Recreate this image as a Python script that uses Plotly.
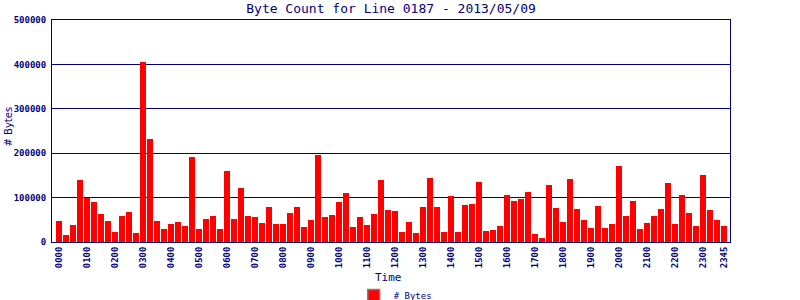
import plotly.graph_objects as go

times = [f"{h:02d}{m:02d}" for h in range(24) for m in (0, 15, 30, 45)]
byte_counts = [
    47000, 16500, 38300, 139600, 99100, 90000, 63000, 47000,
    22500, 58500, 67600, 20300, 405400, 232000, 47000, 29300,
    40500, 45000, 36000, 191400, 29300, 51800, 58500, 29300,
    160000, 51800, 121600, 58500, 56300, 42800, 78800, 40500,
    40500, 65300, 79500, 34100, 50000, 195500, 56800, 61400,
    90900, 111400, 34100, 56800, 38600, 63600, 138600, 72700,
    70500, 22700, 45500, 20500, 79500, 143200, 79500, 22700,
    104500, 22700, 84100, 86400, 134100, 25000, 27300, 36400,
    106800, 93200, 97700, 113600, 18200, 9100, 129500, 77300,
    45500, 140900, 75000, 50000, 31800, 81800, 31800, 40900,
    170500, 59100, 93200, 29500, 43200, 59100, 75000, 131800,
    40900, 106800, 65900, 36400, 150000, 72700, 50000, 36400,
]
tick_labels = [f"{h:02d}00" for h in range(24)] + ["2345"]
y_ticks = [0, 100000, 200000, 300000, 400000, 500000]

title_text = "Byte Count for Line 0187 - 2013/05/09"
x_title = "Time"
y_title = "# Bytes"
series_name = "# Bytes"

NAVY = "#000080"
FONT = "DejaVu Sans Mono"

idx = list(range(len(times)))
tick_pos = [times.index(t) for t in tick_labels]

fig = go.Figure()
fig.add_trace(go.Bar(
    x=idx, y=byte_counts, width=6/7,
    marker=dict(color="#ff0000", line=dict(width=0)),
    name=series_name, showlegend=False,
))
fig.add_trace(go.Bar(
    x=[None], y=[None], name=series_name,
    marker=dict(color="#ff0000", line=dict(color="#808080", width=1.5)),
))

fig.update_layout(
    width=800, height=300,
    margin=dict(l=52, r=70, t=20, b=58),
    paper_bgcolor="white", plot_bgcolor="white",
    bargap=0,
    showlegend=True,
    legend=dict(orientation="h", xref="container", yref="container",
                x=0.494, xanchor="center", y=0.015, yanchor="middle",
                font=dict(family=FONT, size=9, color=NAVY),
                itemwidth=30, bgcolor="rgba(0,0,0,0)"),
    title=dict(text=title_text, x=0.4888, xanchor="center", y=0.973, yanchor="middle",
               font=dict(family=FONT, size=13, color=NAVY)),
    xaxis=dict(
        range=[-1, 95.857], tickmode="array", tickvals=tick_pos, ticktext=tick_labels,
        tickangle=-90, ticks="", showgrid=False, zeroline=False,
        showline=True, linecolor=NAVY, linewidth=1, mirror=True,
        tickfont=dict(family=FONT, size=9, color=NAVY, weight="bold"),
    ),
    yaxis=dict(
        range=[0, 500000], tickmode="array", tickvals=y_ticks,
        ticktext=[str(v) for v in y_ticks],
        ticks="", showgrid=True, gridcolor=NAVY, gridwidth=1, zeroline=False,
        showline=True, linecolor=NAVY, linewidth=1, mirror=True,
        ticklabelstandoff=3,
        tickfont=dict(family=FONT, size=9, color=NAVY, weight="bold"),
    ),
    annotations=[
        dict(text=x_title, xref="paper", yref="paper", x=0.497, y=-0.16,
             xanchor="center", yanchor="middle", showarrow=False,
             font=dict(family=FONT, size=11, color=NAVY)),
        dict(text=y_title, xref="paper", yref="paper", x=-0.0656, y=0.518,
             xanchor="center", yanchor="middle", showarrow=False, textangle=-90,
             font=dict(family="DejaVu Sans", size=10, color=NAVY)),
    ],
)

fig.write_html("out.html")
